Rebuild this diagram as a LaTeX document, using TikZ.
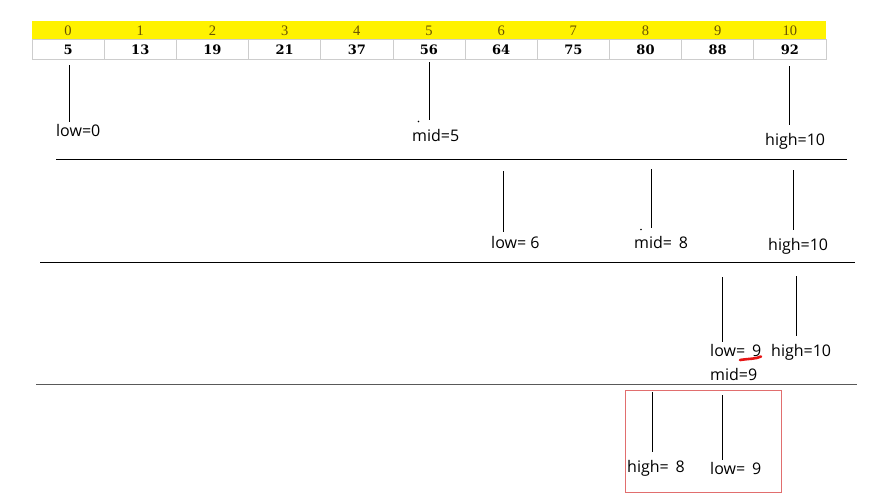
\documentclass[tikz,border=0pt]{standalone}
\usepackage{fontspec}
\setmainfont{Open Sans}
\newfontfamily\idxfont{Liberation Serif}
\newfontfamily\valfont{DejaVu Serif}
\definecolor{hiyellow}{RGB}{255,242,0}
\definecolor{idxcol}{RGB}{105,82,0}
\definecolor{gridgray}{RGB}{205,205,205}
\definecolor{boxred}{RGB}{225,110,110}
\definecolor{markred}{RGB}{230,20,20}
\begin{document}
\begin{tikzpicture}[x=1pt,y=-1pt,
  lbl/.style={anchor=west,inner sep=0pt,font=\fontsize{16}{18}\selectfont},
  idx/.style={inner sep=0pt,text=idxcol,font=\idxfont\fontsize{14.5}{15}\selectfont},
  val/.style={inner sep=0pt,font=\valfont\bfseries\fontsize{13}{14}\selectfont},
  ptr/.style={draw=black,line width=0.9pt},
  sep/.style={draw=black,line width=0.9pt}]
\useasboundingbox (0,0) rectangle (877,503);
\fill[white] (0,0) rectangle (877,503);
% table
\fill[hiyellow] (32,21) rectangle (826,39);
\draw[gridgray,line width=0.8pt] (32,39) rectangle (826,59);
\foreach \i in {1,...,10} {
  \draw[gridgray,line width=0.8pt] ({32+72.18*\i},39) -- ({32+72.18*\i},59);
}
\foreach \i/\v in {0/5,1/13,2/19,3/21,4/37,5/56,6/64,7/75,8/80,9/88,10/92} {
  \node[idx] (i\i) at ({32+72.18*(\i+0.5)},30.5) {\i};
  \node[val] (v\i) at ({32+72.18*(\i+0.5)},49.5) {\v};
}
% row 1
\coordinate (a1) at (69,65); \coordinate (a2) at (69,122);
\draw[ptr] (a1) -- (a2);
\node[lbl] (low1) at (56,130) {low=0};
\coordinate (b1) at (429,62); \coordinate (b2) at (429,120);
\draw[ptr] (b1) -- (b2);
\fill (418.5,121.5) circle (0.9pt);
\node[lbl] (mid1) at (412,135) {mid=5};
\coordinate (c1) at (789,66); \coordinate (c2) at (789,125);
\draw[ptr] (c1) -- (c2);
\node[lbl] (high1) at (765,141) {high=10};
\coordinate (s1a) at (56,159); \coordinate (s1b) at (847,159);
\draw[sep] (s1a) -- (s1b);
% row 2
\coordinate (d1) at (503,171); \coordinate (d2) at (503,232);
\draw[ptr] (d1) -- (d2);
\node[lbl] (low2) at (491,242) {low= 6};
\coordinate (e1) at (651,169); \coordinate (e2) at (651,228);
\draw[ptr] (e1) -- (e2);
\fill (641,229.5) circle (0.9pt);
\node[lbl] (mid2) at (634,242) {mid= \,8};
\coordinate (f1) at (793,170); \coordinate (f2) at (793,230);
\draw[ptr] (f1) -- (f2);
\node[lbl] (high2) at (768,246) {high=10};
\coordinate (s2a) at (40,262); \coordinate (s2b) at (855,262);
\draw[sep] (s2a) -- (s2b);
% row 3
\coordinate (g1) at (722,277); \coordinate (g2) at (722,342);
\draw[ptr] (g1) -- (g2);
\node[lbl] (low3) at (710,350) {low= \,9};
\draw[markred,line width=2.6pt,line cap=round] (740,360) .. controls (750,358.5) and (756,359) .. (761,356.5);
\coordinate (h1) at (796,276); \coordinate (h2) at (796,336);
\draw[ptr] (h1) -- (h2);
\node[lbl] (high3) at (771,352) {high=10};
\node[lbl] (mid3) at (710,374) {mid=9};
\coordinate (s3a) at (36,384.5); \coordinate (s3b) at (857,384.5);
\draw[draw=black!65,line width=1.6pt] (s3a) -- (s3b);
% row 4
\node[draw=boxred,line width=1pt,inner sep=0pt,minimum width=156pt,minimum height=102pt] (box) at (703,441) {};
\coordinate (k1) at (652,392); \coordinate (k2) at (652,452);
\draw[ptr] (k1) -- (k2);
\node[lbl] (high4) at (627,468) {high= \,8};
\coordinate (m1) at (722,395); \coordinate (m2) at (722,460);
\draw[ptr] (m1) -- (m2);
\node[lbl] (low4) at (710,468) {low= \,9};
\end{tikzpicture}
\end{document}
